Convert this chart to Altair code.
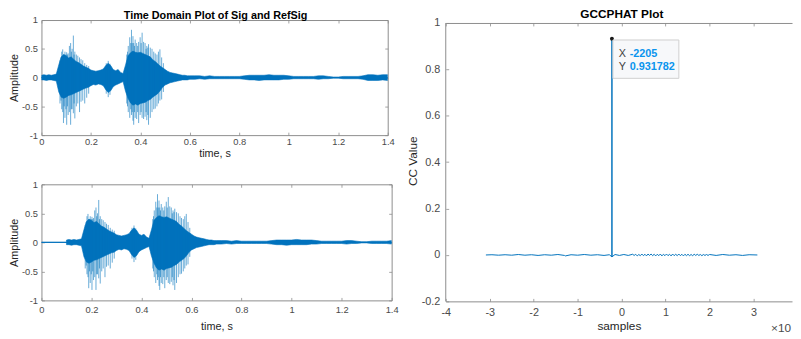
import altair as alt
import pandas as pd

BLUE = "#0072BD"
AXIS = "#8c8c8c"
LABEL = "#4a4a4a"
TITLE = "#262626"
FONT = "Liberation Sans"

# ---------------- time-domain trace (top panel), envelope ----------------
sig_t = [0.00, 0.01, 0.02, 0.03, 0.04, 0.05, 0.06, 0.07, 0.08, 0.09,
         0.10, 0.11, 0.12, 0.13, 0.14, 0.15, 0.16, 0.17, 0.18, 0.19,
         0.20, 0.21, 0.22, 0.23, 0.24, 0.25, 0.26, 0.27, 0.28, 0.29,
         0.30, 0.31, 0.32, 0.33, 0.34, 0.35, 0.36, 0.37, 0.38, 0.39,
         0.40, 0.41, 0.42, 0.43, 0.44, 0.45, 0.46, 0.47, 0.48, 0.49,
         0.50, 0.51, 0.52, 0.53, 0.54, 0.55, 0.56, 0.57, 0.58, 0.59,
         0.60, 0.62, 0.64, 0.66, 0.68, 0.70, 0.72, 0.74, 0.76, 0.78,
         0.80, 0.82, 0.84, 0.86, 0.88, 0.90, 0.92, 0.94, 0.96, 0.98,
         1.00, 1.02, 1.04, 1.06, 1.08, 1.10, 1.12, 1.14, 1.16, 1.18,
         1.20, 1.22, 1.24, 1.26, 1.28, 1.30, 1.32, 1.34, 1.36, 1.38, 1.40]
sig_hi = [0.04, 0.05, 0.04, 0.05, 0.04, 0.05, 0.06, 0.22, 0.36, 0.40,
          0.38, 0.34, 0.36, 0.32, 0.28, 0.26, 0.23, 0.20, 0.18, 0.16,
          0.13, 0.12, 0.11, 0.12, 0.13, 0.15, 0.21, 0.25, 0.21, 0.14,
          0.12, 0.14, 0.09, 0.07, 0.22, 0.38, 0.43, 0.46, 0.44, 0.43,
          0.44, 0.42, 0.40, 0.38, 0.36, 0.31, 0.28, 0.24, 0.20, 0.17,
          0.14, 0.11, 0.09, 0.08, 0.07, 0.06, 0.05, 0.04, 0.04, 0.03,
          0.03, 0.03, 0.03, 0.02, 0.03, 0.02, 0.02, 0.02, 0.02, 0.02,
          0.02, 0.03, 0.04, 0.04, 0.04, 0.04, 0.05, 0.04, 0.04, 0.04,
          0.03, 0.02, 0.02, 0.02, 0.02, 0.02, 0.03, 0.03, 0.02, 0.01,
          0.01, 0.02, 0.02, 0.02, 0.02, 0.03, 0.05, 0.05, 0.04, 0.05, 0.05]
sig_lo = [-0.04, -0.04, -0.05, -0.04, -0.04, -0.05, -0.06, -0.25, -0.34, -0.36,
          -0.34, -0.31, -0.30, -0.28, -0.26, -0.24, -0.22, -0.20, -0.18, -0.17,
          -0.14, -0.12, -0.13, -0.11, -0.12, -0.14, -0.21, -0.26, -0.23, -0.16,
          -0.13, -0.11, -0.09, -0.07, -0.24, -0.36, -0.44, -0.48, -0.46, -0.48,
          -0.45, -0.44, -0.43, -0.40, -0.38, -0.34, -0.31, -0.28, -0.23, -0.17,
          -0.13, -0.11, -0.09, -0.08, -0.07, -0.06, -0.05, -0.04, -0.04, -0.04,
          -0.03, -0.03, -0.02, -0.03, -0.02, -0.02, -0.02, -0.02, -0.02, -0.02,
          -0.02, -0.03, -0.04, -0.04, -0.05, -0.04, -0.04, -0.04, -0.04, -0.03,
          -0.03, -0.02, -0.02, -0.02, -0.02, -0.02, -0.03, -0.02, -0.02, -0.01,
          -0.01, -0.02, -0.02, -0.02, -0.02, -0.03, -0.05, -0.05, -0.05, -0.04, -0.05]

# prominent pitch-pulse spikes (time, min, max)
spike_t = [0.075, 0.079, 0.082, 0.086, 0.089, 0.092, 0.095, 0.099, 0.102, 0.105,
           0.108, 0.113, 0.118, 0.121, 0.124, 0.129, 0.132, 0.135, 0.141, 0.147,
           0.154, 0.160, 0.167, 0.175, 0.183, 0.191,
           0.262, 0.270, 0.277,
           0.345, 0.348, 0.351, 0.357, 0.361, 0.364, 0.367, 0.370, 0.373, 0.376,
           0.379, 0.385, 0.389, 0.393, 0.399, 0.403, 0.407, 0.413, 0.419, 0.423,
           0.426, 0.430, 0.433, 0.440, 0.447, 0.454, 0.460, 0.467, 0.473, 0.479,
           0.486, 0.493]
spike_lo = [-0.45, -0.40, -0.55, -0.60, -0.79, -0.50, -0.70, -0.55, -0.82, -0.50,
            -0.65, -0.60, -0.82, -0.55, -0.55, -0.62, -0.45, -0.71, -0.50, -0.45,
            -0.60, -0.42, -0.40, -0.45, -0.35, -0.28,
            -0.28, -0.34, -0.30,
            -0.45, -0.50, -0.60, -0.70, -0.55, -0.65, -0.60, -0.75, -0.82, -0.60,
            -0.70, -0.72, -0.60, -0.79, -0.65, -0.60, -0.70, -0.72, -0.68, -0.60,
            -0.74, -0.65, -0.82, -0.70, -0.60, -0.55, -0.54, -0.50, -0.45, -0.40,
            -0.38, -0.25]
spike_hi = [0.30, 0.35, 0.45, 0.49, 0.40, 0.40, 0.45, 0.40, 0.44, 0.40,
            0.42, 0.55, 0.60, 0.45, 0.50, 0.73, 0.40, 0.45, 0.40, 0.38,
            0.35, 0.32, 0.30, 0.25, 0.22, 0.20,
            0.25, 0.29, 0.24,
            0.40, 0.45, 0.55, 0.70, 0.60, 0.83, 0.60, 0.72, 0.60, 0.55,
            0.66, 0.60, 0.55, 0.62, 0.70, 0.60, 0.78, 0.62, 0.60, 0.50,
            0.55, 0.52, 0.58, 0.52, 0.50, 0.45, 0.42, 0.40, 0.45, 0.49,
            0.35, 0.25]

# bottom trace: same waveform, delayed (starts at 0.1 s, i.e. the 2205-sample lag)
REF_DELAY = 0.1
T_END = 1.4

time_ticks = [0, 0.2, 0.4, 0.6, 0.8, 1, 1.2, 1.4]
amp_ticks = [-1, -0.5, 0, 0.5, 1]

# ---------------- GCC-PHAT ----------------
cc_lag = [-30870, -29500, -28000, -26500, -25000, -23500, -22000, -20500, -19000, -17500,
          -16000, -14500, -13000, -12800, -11500, -10000, -8500, -7000, -5500, -4000,
          -2800, -2206, -2205, -2204, -1500, -500, 500, 1500, 2500, 2850,
          3200, 3550, 3900, 4250, 4600, 4950, 5300, 5650, 6000, 6350,
          6700, 7050, 7400, 7750, 8100, 8450, 8800, 9150, 9500, 9850,
          10200, 10550, 10900, 11250, 11600, 11950, 12300, 12650, 13000, 13350,
          13700, 14050, 14400, 14750, 15100, 15450, 15800, 16150, 16500, 16850,
          17200, 17550, 17900, 18250, 18600, 18950, 19300, 19650, 20000, 21500,
          23000, 24500, 26000, 27500, 29000, 30870]
cc_val = [0, 0.001, -0.001, 0.001, -0.001, 0.002, -0.001, 0.001, -0.002, 0.001,
          -0.001, 0.002, -0.002, -0.004, 0.001, -0.001, 0.002, -0.001, 0.001, -0.002,
          0.001, -0.008, 0.931782, -0.008, 0.002, -0.002, 0.002, -0.002, 0.003, -0.002,
          0.003, -0.004, 0.002, -0.003, 0.004, -0.003, 0.003, -0.004, 0.004, -0.002,
          0.004, -0.003, 0.003, -0.004, 0.003, -0.003, 0.004, -0.004, 0.003, -0.003,
          0.004, -0.003, 0.003, -0.004, 0.004, -0.003, 0.003, -0.003, 0.004, -0.003,
          0.003, -0.004, 0.003, -0.003, 0.003, -0.003, 0.002, -0.003, 0.003, -0.002,
          0.003, -0.002, 0.002, -0.003, 0.002, -0.002, 0.002, -0.002, 0.002, -0.002,
          0.002, -0.001, 0.001, -0.002, 0.001, 0]
peak_lag = -2205
peak_val = 0.931782
lag_ticks = [-40000, -30000, -20000, -10000, 0, 10000, 20000, 30000]
cc_ticks = [-0.2, 0, 0.2, 0.4, 0.6, 0.8, 1]
LAG_MAX_SHOWN = 38750          # axis runs on past the right edge of the picture
CC_TOP_SHOWN = 1.0127          # small headroom so the box top sits 3px below the left panels' top

# ---------------- frames ----------------
top_core = pd.DataFrame({"t": sig_t, "hi": sig_hi, "lo": sig_lo})
top_spk = pd.DataFrame({"t": spike_t, "lo": spike_lo, "hi": spike_hi})

ref_t = [0.0, REF_DELAY] + [round(t + REF_DELAY, 4) for t in sig_t if t + REF_DELAY <= T_END + 1e-9]
n = len(ref_t) - 2
ref_core = pd.DataFrame({"t": ref_t, "hi": [0, 0] + sig_hi[:n], "lo": [0, 0] + sig_lo[:n]})
ref_spk = pd.DataFrame({"t": [round(t + REF_DELAY, 4) for t in spike_t], "lo": spike_lo, "hi": spike_hi})
base = pd.DataFrame({"t": [0, T_END], "a": [0, 0]})

cc_df = pd.DataFrame({"lag": cc_lag, "val": cc_val})
peak_df = pd.DataFrame({"lag": [peak_lag], "val": [peak_val],
                        "xs": [str(peak_lag)], "ys": [f"{peak_val:g}"]})
exp_df = pd.DataFrame({"lag": [LAG_MAX_SHOWN], "val": [cc_ticks[0]]})
border_df = pd.DataFrame({"lag": [lag_ticks[0]], "lo": [cc_ticks[0]], "hi": [cc_ticks[-1]]})

EXPR = "'' + datum.value"


def tick_axis(orient, values, size=3, extra=0):
    return alt.Axis(orient=orient, values=values, offset=-(size + extra), tickSize=size, ticks=True,
                    labels=False, domain=False, grid=False, tickColor=AXIS, tickWidth=0.8)


def wave_panel(core, spk, width, height, title=None, xlab_pad=2, xtitle_pad=1):
    xs = alt.Scale(domain=[0, T_END], nice=False, zero=False)
    ys = alt.Scale(domain=[-1, 1], nice=False, zero=False)
    line0 = alt.Chart(base).mark_line(color=BLUE, strokeWidth=1).encode(
        x=alt.X("t:Q", scale=xs, title=None, axis=tick_axis("top", time_ticks)),
        y=alt.Y("a:Q", scale=ys, title=None, axis=tick_axis("right", amp_ticks)),
    )
    band = alt.Chart(core).mark_area(color=BLUE, stroke=BLUE, strokeWidth=0.6, opacity=1, clip=True).encode(
        x=alt.X("t:Q", scale=xs, title="time, s",
                axis=alt.Axis(orient="bottom", values=time_ticks, labelExpr=EXPR, ticks=False, tickSize=0,
                              domain=False, grid=False, labelPadding=xlab_pad, titlePadding=xtitle_pad,
                              labelFontSize=9.5, titleFontSize=11, labelFlush=False, labelOverlap=False)),
        y=alt.Y("hi:Q", scale=ys, title="Amplitude",
                axis=alt.Axis(orient="left", values=amp_ticks, labelExpr=EXPR, ticks=False, tickSize=0,
                              domain=False, grid=False, labelPadding=4, titlePadding=2,
                              labelFontSize=9.5, titleFontSize=11, labelFlush=False, labelOverlap=False)),
        y2="lo:Q",
    )
    spikes = alt.Chart(spk).mark_rule(color=BLUE, strokeWidth=0.8, opacity=0.75).encode(
        x=alt.X("t:Q", scale=xs, title=None, axis=tick_axis("bottom", time_ticks)),
        y=alt.Y("lo:Q", scale=ys, title=None, axis=tick_axis("left", amp_ticks)),
        y2="hi:Q",
    )
    props = dict(width=width, height=height, view=alt.ViewBackground(stroke=AXIS, strokeWidth=1))
    if title:
        props["title"] = alt.TitleParams(text=title, fontSize=11, fontWeight="bold", color="#000000",
                                         font=FONT, offset=-6, dx=1, anchor="middle")
    return alt.layer(line0, band, spikes).resolve_axis(x="independent", y="independent").properties(**props)


top = wave_panel(top_core, top_spk, 352, 117, "Time Domain Plot of Sig and RefSig", 2, 1)
bottom = wave_panel(ref_core, ref_spk, 356, 118, None, 4, 7)

# ---------------- right panel ----------------
xr = alt.Scale(domain=[lag_ticks[0], LAG_MAX_SHOWN], nice=False, zero=False)
yr = alt.Scale(domain=[cc_ticks[0], CC_TOP_SHOWN], nice=False, zero=False)

cc_line = alt.Chart(cc_df).mark_line(color=BLUE, strokeWidth=1, clip=True).encode(
    x=alt.X("lag:Q", scale=xr, title="samples",
            axis=alt.Axis(orient="bottom", values=lag_ticks, labelExpr="'' + datum.value / 10000",
                          ticks=False, tickSize=0, domain=True, domainColor=AXIS, grid=False,
                          labelPadding=5, titlePadding=4, labelFontSize=11, titleFontSize=12,
                          labelFlush=False, labelOverlap=False)),
    y=alt.Y("val:Q", scale=yr, title="CC Value",
            axis=alt.Axis(orient="left", values=cc_ticks, labelExpr=EXPR, ticks=False, tickSize=0,
                          domain=False, grid=False, labelPadding=6, titlePadding=2,
                          labelFontSize=11, titleFontSize=12, labelFlush=False, labelOverlap=False)),
)
border = alt.Chart(border_df).mark_rule(color=AXIS, strokeWidth=1).encode(
    x=alt.X("lag:Q", scale=xr, axis=None), y=alt.Y("lo:Q", scale=yr, axis=None), y2="hi:Q")
dot = alt.Chart(peak_df).mark_point(filled=True, color="#1a1a1a", size=16, opacity=1).encode(
    x=alt.X("lag:Q", scale=xr, title=None, axis=tick_axis("bottom", lag_ticks)),
    y=alt.Y("val:Q", scale=yr, title=None, axis=tick_axis("left", cc_ticks)),
)
BOX_PATH = "M0.1,0.12 H6.8 V4.02 H0.1 Z"
box = alt.Chart(peak_df).mark_point(shape=BOX_PATH, size=400, filled=True, fill="#f7f8fa",
                                    stroke="#cfcfcf", strokeWidth=1, opacity=1, fillOpacity=1).encode(
    x=alt.X("lag:Q", scale=xr, title=None,
            axis=alt.Axis(orient="top", values=lag_ticks, offset=-3, ticks=False, labels=False, domain=True,
                          domainColor=AXIS, grid=False)),
    y=alt.Y("val:Q", scale=yr, title=None, axis=None),
)
txt_x = alt.Chart(peak_df).mark_text(align="left", baseline="alphabetic", dx=7, dy=18, fontSize=11,
                                     color="#404040", font=FONT).encode(
    x=alt.X("lag:Q", scale=xr, title=None, axis=tick_axis("top", lag_ticks, extra=3)),
    y=alt.Y("val:Q", scale=yr, title=None, axis=None),
    text=alt.value("X"),
)
txt_y = alt.Chart(peak_df).mark_text(align="left", baseline="alphabetic", dx=7, dy=32, fontSize=11,
                                     color="#404040", font=FONT).encode(
    x=alt.X("lag:Q", scale=xr, axis=None), y=alt.Y("val:Q", scale=yr, axis=None), text=alt.value("Y"))
val_x = alt.Chart(peak_df).mark_text(align="left", baseline="alphabetic", dx=18, dy=18, fontSize=11,
                                     fontWeight="bold", color="#0a94ee", font=FONT).encode(
    x=alt.X("lag:Q", scale=xr, axis=None), y=alt.Y("val:Q", scale=yr, axis=None), text="xs:N")
val_y = alt.Chart(peak_df).mark_text(align="left", baseline="alphabetic", dx=18, dy=32, fontSize=11,
                                     fontWeight="bold", color="#0a94ee", font=FONT).encode(
    x=alt.X("lag:Q", scale=xr, axis=None), y=alt.Y("val:Q", scale=yr, axis=None), text="ys:N")
exp_txt = alt.Chart(exp_df).mark_text(align="right", baseline="alphabetic", dx=-1, dy=31, fontSize=12,
                                      color=LABEL, font=FONT).encode(
    x=alt.X("lag:Q", scale=xr, axis=None), y=alt.Y("val:Q", scale=yr, axis=None), text=alt.value("×10"))

right = alt.layer(cc_line, border, dot, box, txt_x, txt_y, val_x, val_y, exp_txt).resolve_axis(
    x="independent", y="independent").properties(
    width=352, height=286,
    view=alt.ViewBackground(stroke="transparent"),
    title=alt.TitleParams(text="GCCPHAT Plot", fontSize=12, fontWeight="bold", color="#000000",
                          font=FONT, offset=-4, dx=3, anchor="middle"),
)

chart = alt.hconcat(alt.vconcat(top, bottom, spacing=20), right, spacing=6).properties(
    padding={"left": 0, "top": -3.5, "right": 0, "bottom": 0}
).configure_axis(
    labelFont=FONT, titleFont=FONT, labelColor=LABEL, titleColor=TITLE, titleFontWeight="normal"
).configure_title(font=FONT)

chart.save("out.html", embed_options={"renderer": "svg", "actions": False})
